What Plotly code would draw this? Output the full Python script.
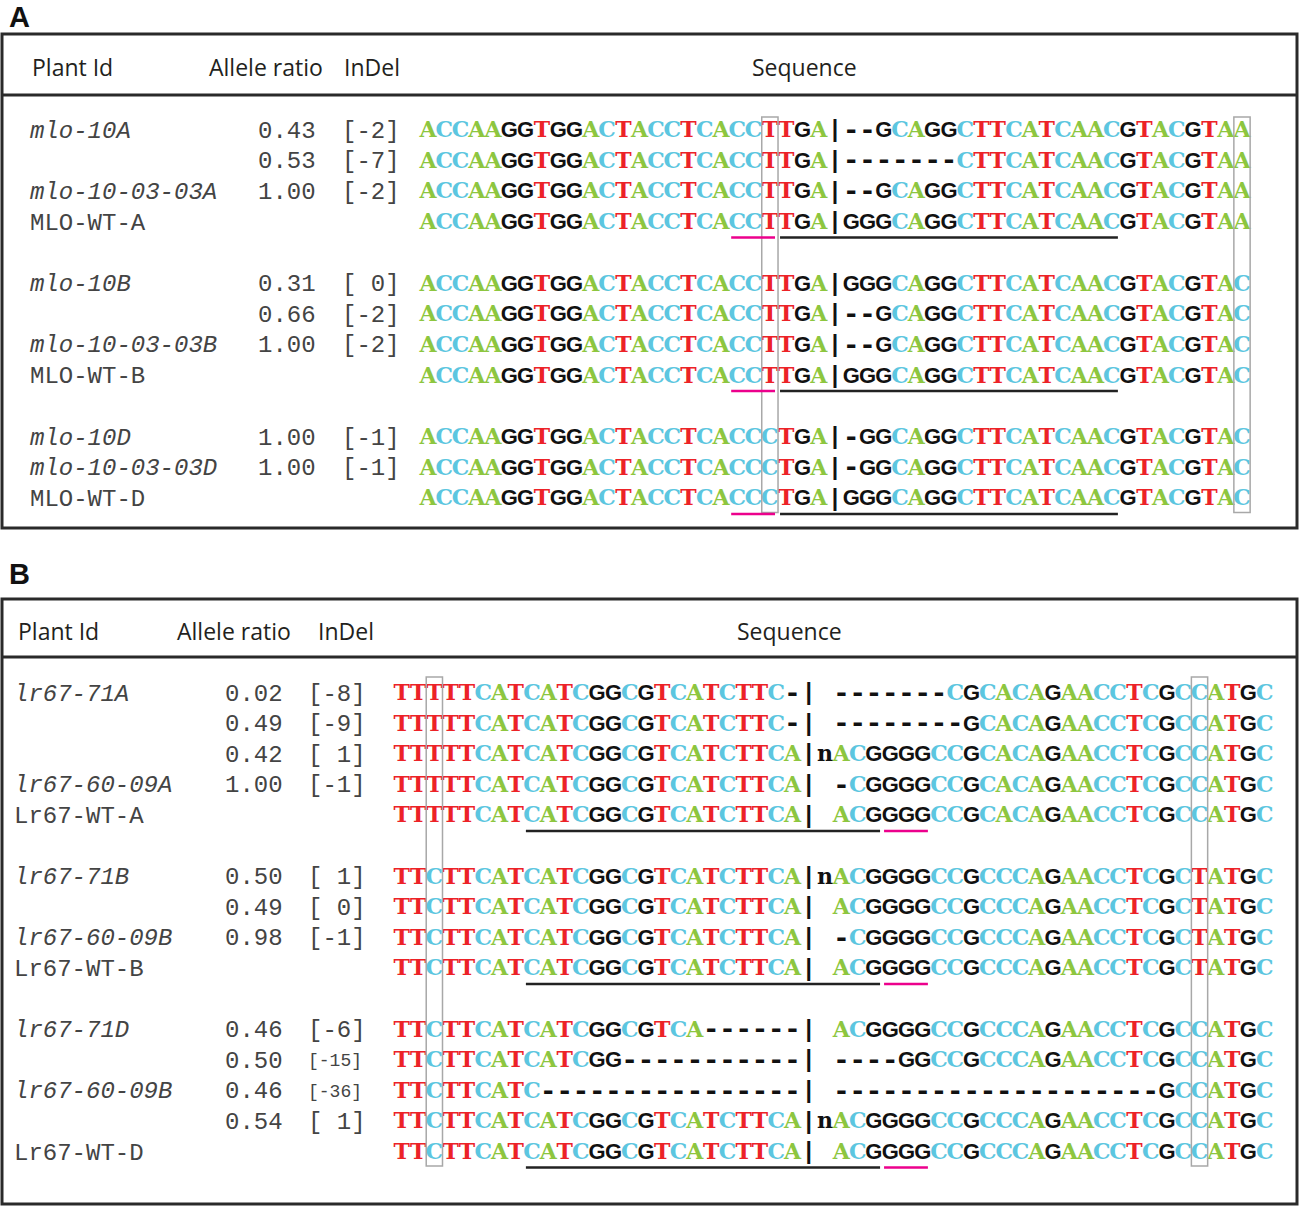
import plotly.graph_objects as go

# ---------------- data: panel A (MLO) ----------------
A_ids = ["mlo-10A", "", "mlo-10-03-03A", "MLO-WT-A",
         "mlo-10B", "", "mlo-10-03-03B", "MLO-WT-B",
         "mlo-10D", "mlo-10-03-03D", "MLO-WT-D"]
A_ratios = ["0.43", "0.53", "1.00", "",
            "0.31", "0.66", "1.00", "",
            "1.00", "1.00", ""]
A_indels = ["[-2]", "[-7]", "[-2]", "",
            "[\u00a00]", "[-2]", "[-2]", "",
            "[-1]", "[-1]", ""]
A_seqs = [
    "ACCAAGGTGGACTACCTCACCTTGA|--GCAGGCTTCATCAACGTACGTAA",
    "ACCAAGGTGGACTACCTCACCTTGA|-------CTTCATCAACGTACGTAA",
    "ACCAAGGTGGACTACCTCACCTTGA|--GCAGGCTTCATCAACGTACGTAA",
    "ACCAAGGTGGACTACCTCACCTTGA|GGGCAGGCTTCATCAACGTACGTAA",
    "ACCAAGGTGGACTACCTCACCTTGA|GGGCAGGCTTCATCAACGTACGTAC",
    "ACCAAGGTGGACTACCTCACCTTGA|--GCAGGCTTCATCAACGTACGTAC",
    "ACCAAGGTGGACTACCTCACCTTGA|--GCAGGCTTCATCAACGTACGTAC",
    "ACCAAGGTGGACTACCTCACCTTGA|GGGCAGGCTTCATCAACGTACGTAC",
    "ACCAAGGTGGACTACCTCACCCTGA|-GGCAGGCTTCATCAACGTACGTAC",
    "ACCAAGGTGGACTACCTCACCCTGA|-GGCAGGCTTCATCAACGTACGTAC",
    "ACCAAGGTGGACTACCTCACCCTGA|GGGCAGGCTTCATCAACGTACGTAC",
]
A_slots = [0, 1, 2, 3, 5, 6, 7, 8, 10, 11, 12]
A_wt_slots = [3, 8, 12]
A_box_cols = [21, 50]
A_pam_cols = [19, 21]
A_spacer_cols = [22, 42]

# ---------------- data: panel B (Lr67) ----------------
B_ids = ["lr67-71A", "", "", "lr67-60-09A", "Lr67-WT-A",
         "lr67-71B", "", "lr67-60-09B", "Lr67-WT-B",
         "lr67-71D", "", "lr67-60-09B", "", "Lr67-WT-D"]
B_ratios = ["0.02", "0.49", "0.42", "1.00", "",
            "0.50", "0.49", "0.98", "",
            "0.46", "0.50", "0.46", "0.54", ""]
B_indels = ["[-8]", "[-9]", "[\u00a01]", "[-1]", "",
            "[\u00a01]", "[\u00a00]", "[-1]", "",
            "[-6]", "[-15]", "[-36]", "[\u00a01]", ""]
B_seqs = [
    "TTTTTCATCATCGGCGTCATCTTC-| -------CGCACAGAACCTCGCCATGC",
    "TTTTTCATCATCGGCGTCATCTTC-| --------GCACAGAACCTCGCCATGC",
    "TTTTTCATCATCGGCGTCATCTTCA|nACGGGGCCGCACAGAACCTCGCCATGC",
    "TTTTTCATCATCGGCGTCATCTTCA| -CGGGGCCGCACAGAACCTCGCCATGC",
    "TTTTTCATCATCGGCGTCATCTTCA| ACGGGGCCGCACAGAACCTCGCCATGC",
    "TTCTTCATCATCGGCGTCATCTTCA|nACGGGGCCGCCCAGAACCTCGCTATGC",
    "TTCTTCATCATCGGCGTCATCTTCA| ACGGGGCCGCCCAGAACCTCGCTATGC",
    "TTCTTCATCATCGGCGTCATCTTCA| -CGGGGCCGCCCAGAACCTCGCTATGC",
    "TTCTTCATCATCGGCGTCATCTTCA| ACGGGGCCGCCCAGAACCTCGCTATGC",
    "TTCTTCATCATCGGCGTCA------| ACGGGGCCGCCCAGAACCTCGCCATGC",
    "TTCTTCATCATCGG-----------| ----GGCCGCCCAGAACCTCGCCATGC",
    "TTCTTCATC----------------| --------------------GCCATGC",
    "TTCTTCATCATCGGCGTCATCTTCA|nACGGGGCCGCCCAGAACCTCGCCATGC",
    "TTCTTCATCATCGGCGTCATCTTCA| ACGGGGCCGCCCAGAACCTCGCCATGC",
]
B_slots = [0, 1, 2, 3, 4, 6, 7, 8, 9, 11, 12, 13, 14, 15]
B_wt_slots = [4, 9, 15]
B_box_cols = [2, 49]
B_pam_cols = [30, 32]
B_spacer_cols = [8, 29]

HEADERS = ["Plant Id", "Allele ratio", "InDel", "Sequence"]

# ---------------- styles ----------------
W, H = 1299, 1206
NUC_STYLE = {
    "A": dict(family="DejaVu Serif", size=22, color="#8dc63f", weight="bold"),
    "C": dict(family="DejaVu Serif", size=22, color="#5cc6e0", weight="bold"),
    "T": dict(family="DejaVu Serif", size=22, color="#ec2227", weight="bold"),
    "n": dict(family="DejaVu Serif", size=22, color="#111111", weight="bold"),
    "G": dict(family="Liberation Sans", size=22, color="#111111", weight="bold"),
    "-": dict(family="Liberation Mono", size=29, color="#111111", weight="bold"),
    "|": dict(family="Liberation Sans", size=23, color="#111111", weight="bold"),
}
LABEL_FONT = dict(family="Liberation Mono", size=24, color="#444444")
HEAD_FONT = dict(family="Open Sans", size=23, color="#231f20")
FRAME = "#2a2a2a"
TEXT_SHIFT = 1.5  # vertical nudge of text relative to row centre

PANELS = [
    dict(letter="A", ids=A_ids, ratios=A_ratios, indels=A_indels, seqs=A_seqs,
         slots=A_slots, wt=A_wt_slots, boxes=A_box_cols, pam=A_pam_cols, spacer=A_spacer_cols,
         top=34, bottom=528, head_y=67, head_line=95, letter_y=17,
         head_x=[30, 207, 342, 804], id_x=30, ratio_x=258, indel_x=342,
         x0=428.0, dx=16.28, y0=130.0, dy=30.7, box_pad=(13, 14)),
    dict(letter="B", ids=B_ids, ratios=B_ratios, indels=B_indels, seqs=B_seqs,
         slots=B_slots, wt=B_wt_slots, boxes=B_box_cols, pam=B_pam_cols, spacer=B_spacer_cols,
         top=599, bottom=1204, head_y=631, head_line=657, letter_y=574,
         head_x=[16, 175, 316, 789], id_x=14, ratio_x=225, indel_x=308,
         x0=401.8, dx=16.28, y0=693.0, dy=30.6, box_pad=(16, 14)),
]

fig = go.Figure()
shapes = []
annotations = []


def txt_trace(xs, ys, texts, font, pos):
    fig.add_trace(go.Scatter(x=xs, y=ys, text=texts, mode="text", textposition=pos,
                             textfont=font, hoverinfo="skip", showlegend=False, cliponaxis=False))


for P in PANELS:
    cx = lambda i, P=P: P["x0"] + i * P["dx"]
    ry = lambda s, P=P: P["y0"] + s * P["dy"]
    ys = [ry(s) + TEXT_SHIFT for s in P["slots"]]

    # frame and header rule
    shapes.append(dict(type="rect", xref="x", yref="y", x0=2, x1=W - 2, y0=P["top"], y1=P["bottom"],
                       line=dict(color=FRAME, width=3), layer="below"))
    shapes.append(dict(type="line", xref="x", yref="y", x0=2, x1=W - 2, y0=P["head_line"], y1=P["head_line"],
                       line=dict(color=FRAME, width=3)))

    # panel letter and headers
    annotations.append(dict(x=7, y=P["letter_y"], xref="x", yref="y", text="<b>%s</b>" % P["letter"],
                            showarrow=False, xanchor="left", yanchor="middle",
                            font=dict(family="Liberation Sans", size=29, color="#111")))
    for k, (h, hx) in enumerate(zip(HEADERS, P["head_x"])):
        annotations.append(dict(x=hx, y=P["head_y"], xref="x", yref="y", text=h, showarrow=False,
                                xanchor="center" if k == 3 else "left", yanchor="middle", font=HEAD_FONT))

    # left columns
    id_txt = [("<i>%s</i>" % t) if (t and "WT" not in t) else t for t in P["ids"]]
    txt_trace([P["id_x"]] * len(ys), ys, id_txt, LABEL_FONT, "middle right")
    txt_trace([P["ratio_x"]] * len(ys), ys, P["ratios"], LABEL_FONT, "middle right")
    small = [len(t) > 4 for t in P["indels"]]
    txt_trace([P["indel_x"]] * len(ys), ys, P["indels"],
              dict(family="Liberation Mono", color="#444444",
                   size=[18 if s else 24 for s in small]), "middle right")

    # gray highlight columns
    ytop = ry(P["slots"][0]) - P["box_pad"][0]
    ybot = ry(P["slots"][-1]) + P["box_pad"][1]
    for c in P["boxes"]:
        shapes.append(dict(type="rect", xref="x", yref="y", x0=cx(c) - P["dx"] / 2, x1=cx(c) + P["dx"] / 2,
                           y0=ytop, y1=ybot, line=dict(color="#a8a8a8", width=1.5), layer="above"))

    # underlines under wild-type rows
    for s in P["wt"]:
        yy = ry(s) + 15.5
        shapes.append(dict(type="line", xref="x", yref="y",
                           x0=cx(P["spacer"][0]) - P["dx"] / 2 + 2, x1=cx(P["spacer"][1]) + P["dx"] / 2 - 2,
                           y0=yy, y1=yy, line=dict(color="#222", width=2.5)))
        shapes.append(dict(type="line", xref="x", yref="y",
                           x0=cx(P["pam"][0]) - P["dx"] / 2 + 2, x1=cx(P["pam"][1]) + P["dx"] / 2 - 3,
                           y0=yy, y1=yy, line=dict(color="#ec008c", width=2.5)))

    # nucleotides, grouped by symbol
    groups = {}
    for yv, seq in zip(ys, P["seqs"]):
        for i, ch in enumerate(seq):
            if ch == " ":
                continue
            gx, gy = groups.setdefault(ch, ([], []))
            gx.append(cx(i))
            gy.append(yv)
    for ch, (gx, gy) in groups.items():
        txt_trace(gx, gy, [ch] * len(gx), NUC_STYLE[ch], "middle center")

fig.update_layout(
    width=W, height=H, margin=dict(l=0, r=0, t=0, b=0),
    paper_bgcolor="white", plot_bgcolor="white",
    xaxis=dict(range=[0, W], visible=False, fixedrange=True),
    yaxis=dict(range=[H, 0], visible=False, fixedrange=True),
    shapes=shapes, annotations=annotations, showlegend=False,
)
fig.write_html("out.html", config={"displayModeBar": False},
               post_script="document.body.style.margin='0px';")
